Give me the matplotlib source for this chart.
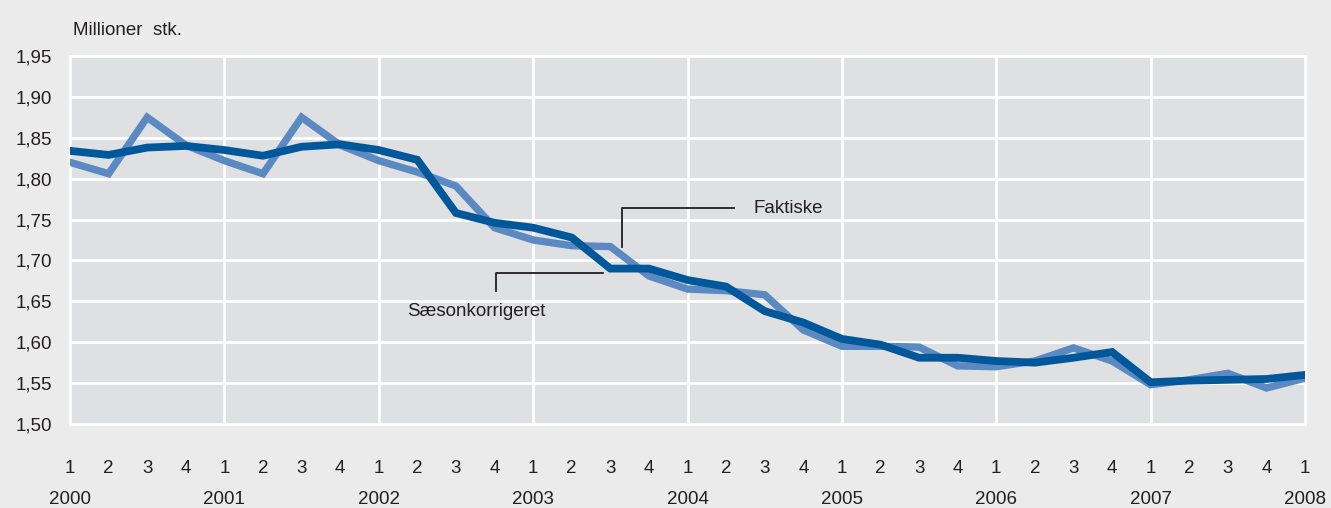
import matplotlib
matplotlib.use('Agg')
import matplotlib.pyplot as plt
from matplotlib.ticker import MultipleLocator, FuncFormatter

# Kvartaler 2000K1 - 2008K1
aar = [2000, 2001, 2002, 2003, 2004, 2005, 2006, 2007, 2008]
kvartaler = ['1', '2', '3', '4'] * 8 + ['1']

faktiske = [1.820, 1.806, 1.875, 1.841, 1.822, 1.806, 1.875, 1.841,
            1.822, 1.808, 1.791, 1.740, 1.725, 1.718, 1.717, 1.681,
            1.665, 1.663, 1.658, 1.615, 1.595, 1.595, 1.594, 1.571,
            1.570, 1.577, 1.593, 1.577, 1.548, 1.554, 1.562, 1.544,
            1.556]
saeson = [1.834, 1.829, 1.838, 1.840, 1.835, 1.828, 1.839, 1.842,
          1.835, 1.823, 1.758, 1.746, 1.740, 1.728, 1.690, 1.690,
          1.676, 1.668, 1.638, 1.624, 1.604, 1.597, 1.581, 1.581,
          1.577, 1.575, 1.581, 1.588, 1.551, 1.553, 1.554, 1.555,
          1.560]

plt.rcParams['font.family'] = ['Liberation Sans', 'DejaVu Sans']
tekst_farve = '#231f20'
fs = 13.5

fig = plt.figure(figsize=(13.31, 5.08), dpi=100)
fig.patch.set_facecolor('#ebebec')
ax = fig.add_axes([0.0526, 0.1654, 0.9279, 0.7244])
ax.set_facecolor('#dfe0e2')

x = list(range(len(faktiske)))
ax.plot(x, faktiske, color='#5b89c2', linewidth=5.3, solid_joinstyle='miter', zorder=3)
ax.plot(x, saeson, color='#00589b', linewidth=5.6, solid_joinstyle='miter', zorder=4)

ax.set_xlim(0, 32)
ax.set_ylim(1.50, 1.95)

# Gitter
ax.yaxis.set_major_locator(MultipleLocator(0.05))
for y in [1.55 + 0.05 * k for k in range(8)]:
    ax.axhline(y, color='white', linewidth=2, zorder=1)
for i in range(4, 32, 4):
    ax.axvline(i, color='white', linewidth=2, zorder=1)
for s in ax.spines.values():
    s.set_color('white')
    s.set_linewidth(2)

ax.yaxis.set_major_formatter(FuncFormatter(lambda v, p: f'{v:.2f}'.replace('.', ',')))
ax.tick_params(axis='y', length=0, pad=13, labelsize=fs, labelcolor=tekst_farve)

ax.set_xticks(x)
ax.set_xticklabels(kvartaler)
ax.tick_params(axis='x', length=0, pad=26, labelsize=fs, labelcolor=tekst_farve)

trans = ax.get_xaxis_transform()
for k, a in enumerate(aar):
    ax.text(k * 4, -0.205, str(a), transform=trans, ha='center', va='center',
            fontsize=fs, color=tekst_farve, clip_on=False)

fig.text(0.055, 0.94, 'Millioner  stk.', fontsize=fs, color=tekst_farve, va='center')

# Annoteringer
ax.plot([14.3, 14.3, 17.2], [1.7165, 1.7635, 1.7635], color='#231f20', linewidth=1.3, zorder=5)
ax.text(17.7, 1.7635, 'Faktiske', fontsize=fs, color=tekst_farve, va='center', ha='left')
ax.plot([11.05, 11.05, 13.8], [1.6625, 1.685, 1.685], color='#231f20', linewidth=1.3, zorder=5)
ax.text(8.74, 1.6375, 'Sæsonkorrigeret', fontsize=fs, color=tekst_farve, va='center', ha='left')

plt.savefig('out.png', dpi=100, facecolor=fig.get_facecolor())
plt.close()
